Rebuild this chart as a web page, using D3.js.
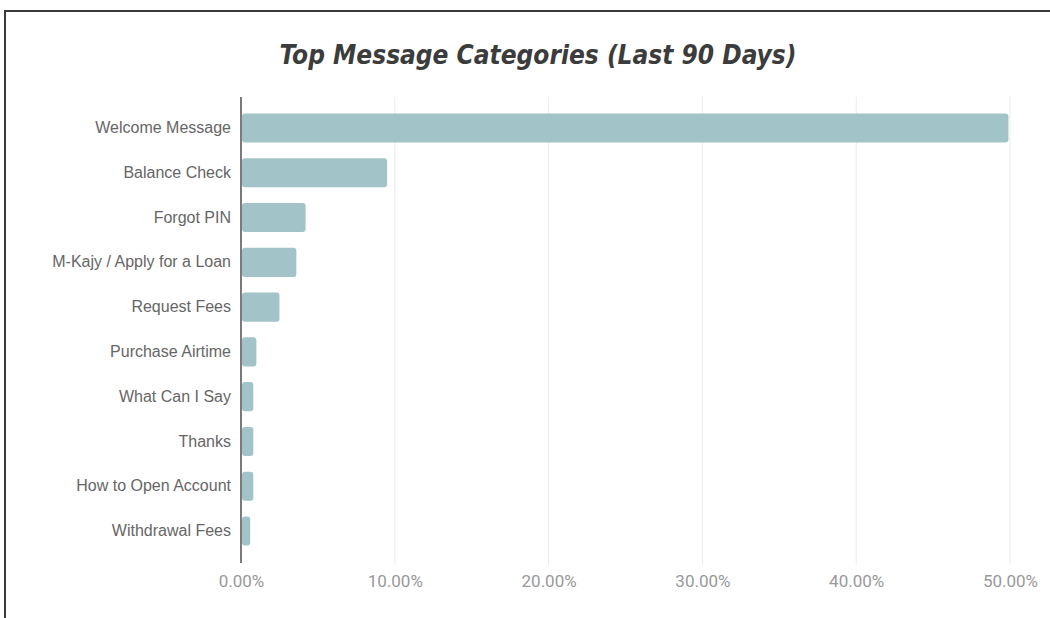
<!DOCTYPE html>
<html>
<head>
<meta charset="utf-8">
<script src="https://cdn.jsdelivr.net/npm/d3@7"></script>
<style>
  html, body { margin: 0; padding: 0; background: #fff; }
  svg { display: block; }
</style>
</head>
<body>
<div id="chart"></div>
<script>
// Chart data
const categories = [
    'Welcome Message', 'Balance Check', 'Forgot PIN', 'M-Kajy / Apply for a Loan',
    'Request Fees', 'Purchase Airtime', 'What Can I Say', 'Thanks',
    'How to Open Account', 'Withdrawal Fees'
];
const shares = [49.9, 9.5, 4.2, 3.6, 2.5, 1.0, 0.8, 0.8, 0.8, 0.6];
const xTicks = [0, 10, 20, 30, 40, 50];
const chartTitle = 'Top Message Categories (Last 90 Days)';

const W = 1050, H = 618;
const margin = {top: 97, right: 38, bottom: 53, left: 241};
const width = W - margin.left - margin.right;
const height = H - margin.top - margin.bottom;

const data = categories.map((c, i) => ({name: c, value: shares[i]}));

const svg = d3.select('#chart').append('svg')
    .attr('width', W)
    .attr('height', H);

// frame lines along top and left edge
svg.append('line')
    .attr('x1', 5).attr('x2', W).attr('y1', 11).attr('y2', 11)
    .style('stroke', '#3a3a3a').style('stroke-width', 2);
svg.append('line')
    .attr('x1', 5).attr('x2', 5).attr('y1', 10).attr('y2', H)
    .style('stroke', '#3a3a3a').style('stroke-width', 2);

svg.append('text')
    .attr('x', 538)
    .attr('y', 64)
    .attr('text-anchor', 'middle')
    .style('font-family', '"DejaVu Sans", sans-serif')
    .style('font-stretch', 'condensed')
    .style('font-weight', 'bold')
    .style('font-style', 'italic')
    .style('font-size', '26px')
    .style('fill', '#3c3c3c')
    .text(chartTitle);

const g = svg.append('g')
    .attr('transform', `translate(${margin.left},${margin.top})`);

const x = d3.scaleLinear()
    .domain([0, 50])
    .range([0, width - 2]);

const y = d3.scaleBand()
    .domain(categories)
    .range([0, 465])
    .paddingInner(0.35)
    .paddingOuter(0.367);

// gridlines
g.selectAll('.grid')
    .data(xTicks.filter(d => d > 0))
    .join('line')
    .attr('class', 'grid')
    .attr('x1', d => x(d)).attr('x2', d => x(d))
    .attr('y1', 0).attr('y2', height)
    .style('stroke', '#ebebeb')
    .style('stroke-width', 1);

// bars
g.selectAll('.bar')
    .data(data)
    .join('rect')
    .attr('class', 'bar')
    .attr('x', 1)
    .attr('y', d => y(d.name))
    .attr('width', d => x(d.value) - 1)
    .attr('height', y.bandwidth())
    .attr('rx', 3)
    .style('fill', '#a2c3c8');

// x axis
const xAxis = g.append('g')
    .attr('transform', `translate(0,${height})`)
    .call(d3.axisBottom(x).tickValues(xTicks).tickFormat(d => d.toFixed(2) + '%').tickSize(0).tickPadding(10));
xAxis.select('.domain').remove();
xAxis.selectAll('text')
    .style('font-family', 'Roboto, sans-serif')
    .style('font-size', '17px')
    .style('fill', '#999');

// y axis
const yAxis = g.append('g')
    .call(d3.axisLeft(y).tickSize(0).tickPadding(10));
yAxis.select('.domain').remove();
yAxis.selectAll('text')
    .style('font-family', '"Liberation Sans", Arial, sans-serif')
    .style('font-size', '16px')
    .style('fill', '#666');

g.append('line')
    .attr('x1', 0).attr('x2', 0)
    .attr('y1', 0).attr('y2', height - 2)
    .style('stroke', '#222')
    .style('stroke-width', 1.2);
</script>
</body>
</html>
